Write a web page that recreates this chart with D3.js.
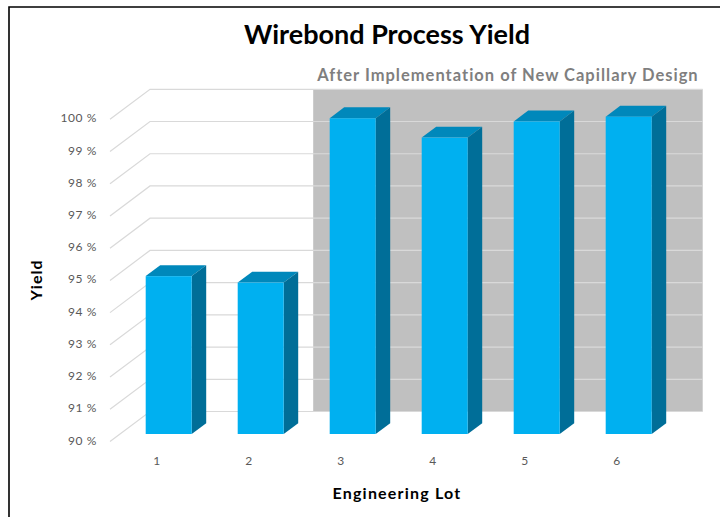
<!DOCTYPE html>
<html>
<head>
<meta charset="utf-8">
<script src="https://cdn.jsdelivr.net/npm/d3@7"></script>
<style>
  html, body { margin: 0; padding: 0; background: #fff; }
  svg { display: block; font-family: Lato, "Open Sans", sans-serif; }
</style>
</head>
<body>
<svg id="chart" width="720" height="517"></svg>
<script>
// Wirebond yield per engineering lot
const lots = ["1", "2", "3", "4", "5", "6"];
const yieldPct = [94.9, 94.7, 99.8, 99.2, 99.7, 99.85];
const yTicks = [90, 91, 92, 93, 94, 95, 96, 97, 98, 99, 100];
const highlightLots = ["3", "4", "5", "6"];

const title = "Wirebond Process Yield";
const subtitle = "After Implementation of New Capillary Design";
const xTitle = "Engineering Lot";
const yTitle = "Yield";

const svg = d3.select("#chart");

// Oblique projection: depth d in [0,1] shifts points right and up
const depthX = 40, depthY = -30;
const y = d3.scaleLinear().domain([90, 100]).range([441.5, 119.3]);
const x = d3.scaleBand().domain(lots).range([112.7, 664.7])
  .paddingInner(0.5).paddingOuter(0.25);
const P = (px, v, d) => [px + depthX * d, y(v) + depthY * d];

const wallLeft = 110, wallRight = x.range()[1] - 2;
const gridColor = "#d9d9d9";

// outer frame
svg.append("path")
  .attr("d", "M9,517 L9,7 L720,7")
  .attr("fill", "none").attr("stroke", "#000").attr("stroke-width", 1.6);

// shaded region behind the lots made with the new capillary
const panelX0 = x(highlightLots[0]) - 6.5;
const panelX1 = wallRight + depthX;
svg.append("rect")
  .attr("x", panelX0)
  .attr("y", P(0, 100, 1)[1])
  .attr("width", panelX1 - panelX0)
  .attr("height", y(90) - y(100))
  .attr("fill", "#c0c0c0");

// back-wall gridlines and side-wall diagonals
const grid = svg.append("g");
yTicks.forEach(t => {
  const a = P(wallLeft, t, 0), b = P(wallLeft, t, 1), c = P(wallRight, t, 1);
  grid.append("path")
    .attr("d", `M${a[0]},${a[1]} L${b[0]},${b[1]} L${c[0]},${c[1]}`)
    .attr("fill", "none").attr("stroke", gridColor).attr("stroke-width", 1.2);
});

// y tick labels
svg.append("g").selectAll("text").data(yTicks).join("text")
  .attr("x", 97).attr("y", d => y(d))
  .attr("text-anchor", "end").attr("dominant-baseline", "middle")
  .attr("font-size", 12).attr("letter-spacing", 0.6).attr("fill", "#595959")
  .text(d => `${d} %`);

// 3D columns
const dFront = 0.25, dBack = 0.6125;
const bars = svg.append("g");
lots.forEach((lot, i) => {
  const v = yieldPct[i];
  const x0 = x(lot), x1 = x0 + x.bandwidth();
  const poly = pts => pts.map(p => p.join(",")).join(" ");
  // top face
  bars.append("polygon")
    .attr("points", poly([P(x0, v, dFront), P(x1, v, dFront), P(x1, v, dBack), P(x0, v, dBack)]))
    .attr("fill", "#0088bb");
  // side face
  bars.append("polygon")
    .attr("points", poly([P(x1, v, dFront), P(x1, 90, dFront), P(x1, 90, dBack), P(x1, v, dBack)]))
    .attr("fill", "#006e98");
  // front face
  const f0 = P(x0, v, dFront), f1 = P(x1, 90, dFront);
  bars.append("rect")
    .attr("x", f0[0]).attr("y", f0[1])
    .attr("width", f1[0] - f0[0]).attr("height", f1[1] - f0[1])
    .attr("fill", "#00b0f0");
});

// category labels
svg.append("g").selectAll("text").data(lots).join("text")
  .attr("x", d => x(d) + x.bandwidth() / 2 - 2)
  .attr("y", 465)
  .attr("text-anchor", "middle")
  .attr("font-size", 12).attr("fill", "#595959")
  .text(d => d);

// titles
svg.append("text")
  .attr("x", 387).attr("y", 44)
  .attr("text-anchor", "middle")
  .attr("font-size", 27).attr("font-weight", 700).attr("fill", "#000")
  .text(title);

svg.append("text")
  .attr("x", (panelX0 + panelX1) / 2).attr("y", 81)
  .attr("text-anchor", "middle")
  .attr("font-size", 16.5).attr("letter-spacing", 1).attr("font-weight", 700).attr("fill", "#7f7f7f")
  .text(subtitle);

svg.append("text")
  .attr("x", 397).attr("y", 499)
  .attr("text-anchor", "middle")
  .attr("font-size", 16).attr("letter-spacing", 1.2).attr("font-weight", 700).attr("fill", "#000")
  .text(xTitle);

svg.append("text")
  .attr("transform", "translate(42,280) rotate(-90)")
  .attr("text-anchor", "middle")
  .attr("font-size", 16).attr("letter-spacing", 1).attr("font-weight", 700).attr("fill", "#000")
  .text(yTitle);
</script>
</body>
</html>
